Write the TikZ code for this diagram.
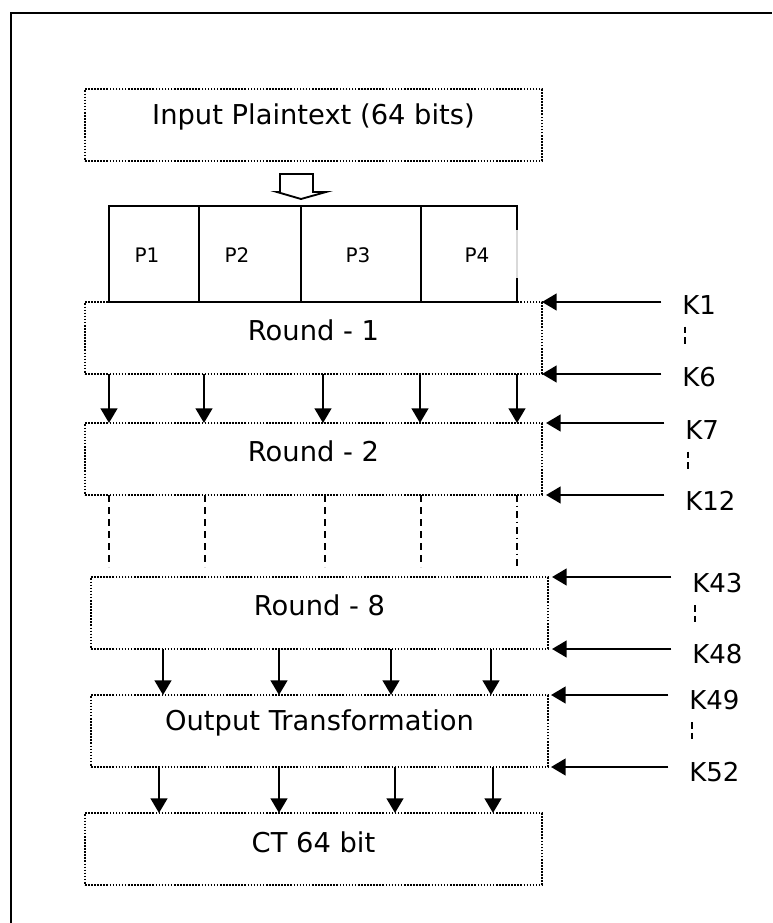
\documentclass[tikz,border=0pt]{standalone}
\usepackage{fontspec}
\setmainfont{DejaVu Sans}
\usetikzlibrary{arrows.meta}

\tikzset{
  blk/.style={draw, line width=1.6pt, dash pattern=on 1.2pt off 1.1pt, minimum width=342.75pt, minimum height=54pt, inner sep=0pt, outer sep=0pt, anchor=north west}, % dotted block
  blk text/.style={font=\fontsize{20.5}{24}\selectfont}, % block caption
  arr/.style={draw, line width=1.8pt, -{Triangle[length=11pt,width=12.5pt]}}, % solid arrow
  dsh/.style={draw, line width=1.6pt, dash pattern=on 5pt off 4pt}, % dashed link
  key/.style={font=\fontsize{19.5}{23}\selectfont, inner sep=0pt, anchor=west}, % subkey label
  key dash/.style={draw, line width=1.5pt, dash pattern=on 5pt off 3pt}, % dots between keys
  cell/.style={font=\fontsize{15}{18}\selectfont} % sub-block label
}

\begin{document}
\begin{tikzpicture}[x=0.75pt,y=-0.75pt]
    \useasboundingbox (0,0) rectangle (772,923);
    \draw[line width=2pt] (11,923) -- (11,13) -- (772,13);

    % blocks
    \node[blk] (IN) at (85,89) {};
    \node[blk] (R1) at (85,302) {};
    \node[blk] (R2) at (85,423) {};
    \node[blk] (R8) at (91,577) {};
    \node[blk] (OT) at (91,695) {};
    \node[blk] (CT) at (85,813) {};

    \node[blk text] (INt) at ([yshift=6pt]IN.center) {Input Plaintext (64 bits)};
    \node[blk text] (R1t) at ([yshift=6pt]R1.center) {Round - 1};
    \node[blk text] (R2t) at ([yshift=6pt]R2.center) {Round - 2};
    \node[blk text] (R8t) at ([yshift=6pt]R8.center) {Round - 8};
    \node[blk text] (OTt) at ([yshift=6pt]OT.center) {Output Transformation};
    \node[blk text] (CTt) at ([yshift=5pt]CT.center) {CT 64 bit};

    % hollow arrow and the four sub-blocks
    \draw[line width=1.4pt, line join=miter, fill=white]
    (280,174) -- (313,174) -- (313,192) -- (326,192) -- (301,199) -- (277,192) -- (280,192) -- cycle;
    \draw[line width=1.6pt] (517,230) -- (517,206) -- (109,206) -- (109,302) -- (517,302) -- (517,278);
    \draw[line width=1.6pt, gray!30] (517,230) -- (517,278);
    \foreach \x in {199,301,421} {
      \draw[line width=1.6pt] (\x,206) -- (\x,302);
    }
    \foreach \i/\x in {1/147,2/237,3/358,4/477} {
      \node[cell] (P\i) at (\x,255) {P\i};
    }

    % links between rounds
    \foreach \x in {109,204,323,420,517} {
      \draw[arr] (\x,0 |- R1.south) -- (\x,0 |- R2.north);
    }
    \coordinate (R8top) at ([yshift=7.5pt]R8.north);
    \foreach \x in {109,205,325,421} {
      \draw[dsh] (\x,0 |- R2.south) -- (\x,0 |- R8top);
    }
    \draw[line width=1.6pt, dash pattern=on 5pt off 3pt on 1pt off 3pt] (517,0 |- R2.south) -- (517,0 |- R8top);
    \foreach \x in {163,279,391,491} {
      \draw[arr] (\x,0 |- R8.south) -- (\x,0 |- OT.north);
    }
    \foreach \x in {159,279,395,493} {
      \draw[arr] (\x,0 |- OT.south) -- (\x,0 |- CT.north);
    }

    % subkeys
    \foreach \k/\x/\y in {K1/682/305,K6/682/377,K7/685/430,K12/685/501,K43/692/583,K48/692/654,K49/689/700,K52/689/772} {
      \node[key] (\k) at (\x,\y) {\k};
    }
    \foreach \k/\b/\s in {K1/R1.north east/0,K6/R1.south east/0,K7/R2.north east/3,K12/R2.south east/3,K43/R8.north east/3,K48/R8.south east/3,K49/OT.north east/2.25,K52/OT.south east/2.25} {
      \draw[arr] ([xshift=-15.4pt]\k.west |- \b) -- ([xshift=\s pt]\b);
    }
    \foreach \k in {K1,K7,K43,K49} {
      \draw[key dash] ([xshift=2.5pt,yshift=-9pt]\k.south west) -- ([xshift=2.5pt,yshift=-24pt]\k.south west);
    }
\end{tikzpicture}
\end{document}
